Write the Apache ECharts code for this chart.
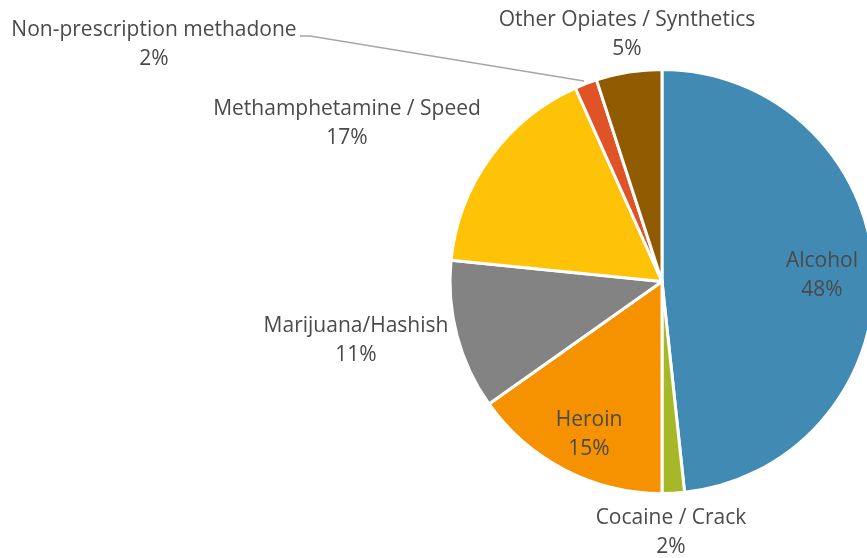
<!DOCTYPE html>
<html>
<head>
<meta charset="utf-8">
<script src="https://cdn.jsdelivr.net/npm/echarts@6/dist/echarts.min.js"></script>
<style>
  html, body { margin: 0; padding: 0; background: #fff; }
  #chart { width: 867px; height: 558px; }
</style>
</head>
<body>
<div id="chart"></div>
<script>
// slices, clockwise from 12 o'clock
const categories = ['Alcohol', 'Cocaine / Crack', 'Heroin', 'Marijuana/Hashish',
  'Methamphetamine / Speed', 'Non-prescription methadone', 'Other Opiates / Synthetics'];
const shares = [48.3, 1.7, 15.2, 11.4, 16.7, 1.7, 5.0];
const colors = ['#418AB3', '#A6B727', '#F69200', '#838383', '#FEC306', '#DF5327', '#905B00'];

// where each label block sits (center of the two lines)
const labelPos = [[822, 276], [671, 533], [589, 435], [356, 341], [347, 124], [154, 45], [627, 35]];

const myChart = echarts.init(document.getElementById('chart'));

myChart.setOption({
  animation: false,
  series: [{
    type: 'pie',
    center: [662, 281.5],
    radius: 212,
    startAngle: 90,
    clockwise: true,
    percentPrecision: 0,
    itemStyle: { borderColor: '#fff', borderWidth: 3 },
    label: {
      show: true,
      formatter: '{b}\n{d}%',
      color: '#4a4a4a',
      fontFamily: 'Open Sans',
      fontSize: 21,
      lineHeight: 29,
      align: 'center',
      overflow: 'none'
    },
    labelLine: { show: false },
    labelLayout: function (params) {
      const p = labelPos[params.dataIndex];
      const out = { x: p[0], y: p[1], align: 'center', verticalAlign: 'middle' };
      if (params.dataIndex === 5) {
        out.labelLinePoints = [[584, 81], [310, 36], [300, 36]];
      }
      return out;
    },
    data: categories.map(function (name, i) {
      const item = { name: name, value: shares[i], itemStyle: { color: colors[i] } };
      if (i === 5) {
        item.labelLine = { show: true, lineStyle: { color: '#A6A6A6', width: 1.3 } };
      }
      return item;
    })
  }]
});
</script>
</body>
</html>
